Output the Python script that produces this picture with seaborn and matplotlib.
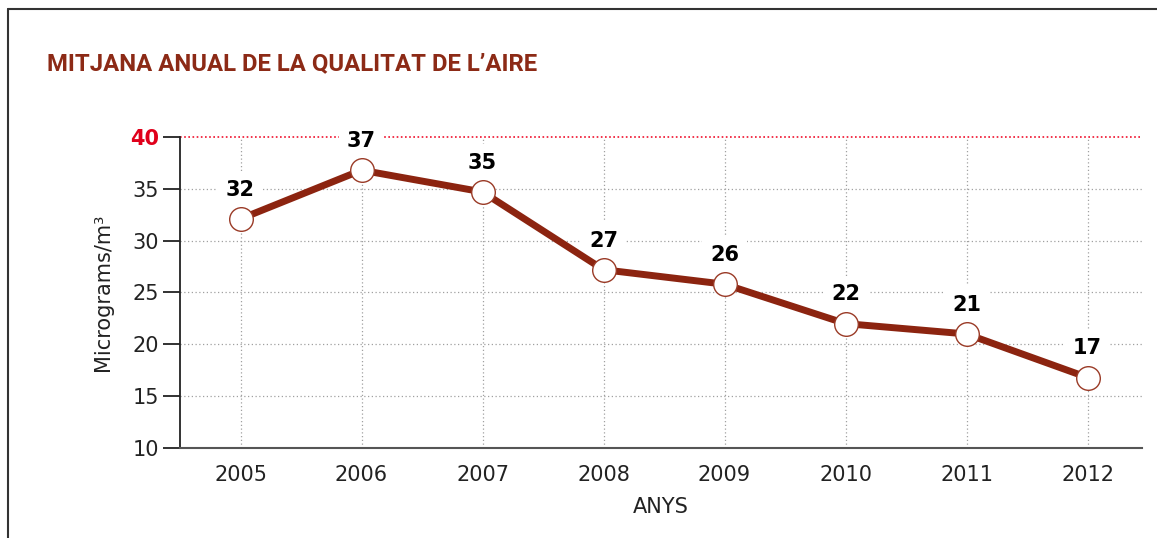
import matplotlib
matplotlib.use("Agg")
import matplotlib.pyplot as plt
import seaborn as sns
import pandas as pd
from matplotlib.lines import Line2D

years = [2005, 2006, 2007, 2008, 2009, 2010, 2011, 2012]
values = [32.1, 36.8, 34.7, 27.2, 25.8, 22.0, 21.0, 16.8]
labels = ["32", "37", "35", "27", "26", "22", "21", "17"]
yticks = [10, 15, 20, 25, 30, 35, 40]

title = "MITJANA ANUAL DE LA QUALITAT DE L\u2019AIRE"
line_color = "#8c2410"
title_color = "#8c2a16"

sns.set_theme(style="white")
plt.rcParams['font.family'] = ['DejaVu Sans']

df = pd.DataFrame({"year": years, "value": values})

fig = plt.figure(figsize=(11.57, 5.38), dpi=100)
ax = fig.add_axes([180/1157, 1-448/538, (1142-180)/1157, (448-137)/538])

sns.lineplot(data=df, x="year", y="value", ax=ax, color=line_color, lw=5,
             marker="o", markersize=17, markerfacecolor="white",
             markeredgecolor="#9a3a26", markeredgewidth=1.0, zorder=6)

ax.set_xlim(2004.5, 2012.45)
ax.set_ylim(10, 40)
ax.set_xticks(years)
ax.set_xticklabels([str(y) for y in years])
ax.set_yticks(yticks)

# grid
for y in yticks[1:-1]:
    ax.axhline(y, color="#a0a0a0", lw=0.9, ls=(0, (1, 2)), zorder=1)
for x in years:
    ax.plot([x, x], [10, 39.9], color="#a0a0a0", lw=0.9, ls=(0, (1, 2)), zorder=1)
ax.axhline(40, color="#f0102c", lw=1.2, ls=(0, (1, 1.5)), zorder=2, clip_on=False)

for s in ["top", "right"]:
    ax.spines[s].set_visible(False)
ax.spines["left"].set_color("#222222")
ax.spines["left"].set_linewidth(1.3)
ax.spines["bottom"].set_color("#555555")
ax.spines["bottom"].set_linewidth(1.5)

ax.tick_params(axis="y", which="major", direction="out", length=12, width=1.3,
               color="#222222", labelsize=15, labelcolor="#222222", pad=3, left=True)
ax.tick_params(axis="x", length=0, labelsize=15, labelcolor="#222222", pad=12)
for t in ax.get_yticklabels():
    if t.get_text() == "40":
        t.set_color("#e0001b")
        t.set_fontweight("bold")

ax.set_xlabel("ANYS", fontsize=15, color="#222222", labelpad=9)
ax.set_ylabel("Micrograms/m\u00b3", fontsize=15, color="#222222", labelpad=12)

for x, v, lab in zip(years, values, labels):
    ax.annotate(lab, (x, v), xytext=(0, 21), textcoords="offset points",
                ha="center", va="center", fontsize=15, fontweight="bold",
                color="black", zorder=4,
                bbox=dict(boxstyle="square,pad=0.4", fc="white", ec="none"))

fig.text(47/1157, 1-64/538, title, fontsize=17.2, fontweight="bold",
         color=title_color, family="Roboto", ha="left", va="center")

# frame border (extends past right and bottom)
fig.add_artist(Line2D([8/1157, 8/1157], [0, 1-9/538], color="#333333", lw=1.5,
                      transform=fig.transFigure))
fig.add_artist(Line2D([8/1157, 1], [1-9/538, 1-9/538], color="#333333", lw=1.5,
                      transform=fig.transFigure))

fig.savefig("out.png", dpi=100)
